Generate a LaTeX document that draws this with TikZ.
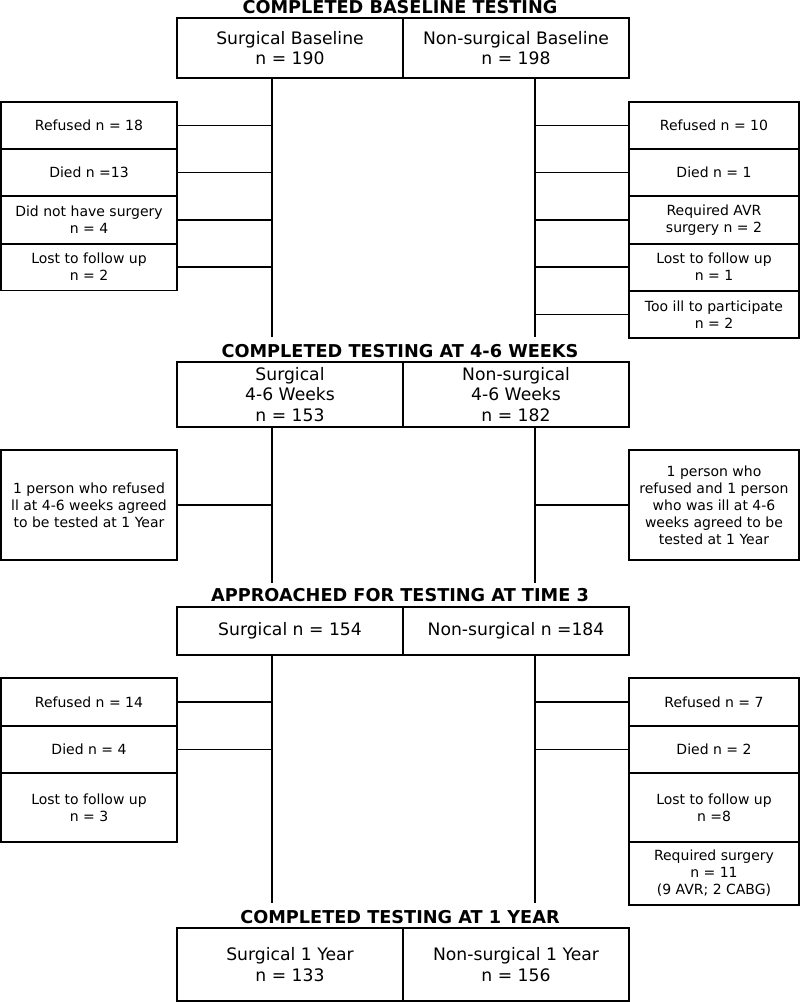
\documentclass[tikz,border=0pt]{standalone}
\usepackage{fontspec}
\setmainfont{DejaVu Sans}
\usetikzlibrary{calc}
\begin{document}
\begin{tikzpicture}[x=1pt,y=-1pt,
 mainbox/.style={draw,line width=1.6pt,minimum width=226pt,inner sep=0pt,outer sep=0pt,align=center,font=\fontsize{17.2}{20.5}\selectfont},
 sidebox/.style={draw,line width=1.6pt,inner sep=0pt,outer sep=0pt,align=center,font=\fontsize{14}{17}\selectfont},
 lbox/.style={sidebox,minimum width=176pt},
 rbox/.style={sidebox,minimum width=170pt},
 title/.style={anchor=base,font=\bfseries\fontsize{17.7}{20}\selectfont},
 trunk/.style={line width=2.3pt},
 branch/.style={line width=1.3pt}]
\useasboundingbox (0,0) rectangle (800,1002);

% ---------- Section 1 ----------
\node[title] (t1) at (400,13.5) {COMPLETED BASELINE TESTING};
\node[mainbox,minimum height=60pt] (m1l) at (290,48) {Surgical Baseline\\n = 190};
\node[mainbox,minimum height=60pt] (m1r) at (516,48) {Non-surgical Baseline\\n = 198};
\coordinate (e1l) at (272,337);
\coordinate (e1r) at (535,337);
\draw[trunk] (m1l.south -| e1l) -- (e1l);
\draw[trunk] (m1r.south -| e1r) -- (e1r);

\node[lbox,minimum height=47pt] (l1) at (89,125.5) {Refused n = 18};
\node[lbox,minimum height=47pt] (l2) at (89,172.5) {Died n =13};
\node[lbox,minimum height=48pt] (l3) at (89,220) {Did not have surgery\\n = 4};
\node[lbox,minimum height=47pt] (l4) at (89,267) {Lost to follow up\\n = 2};
\foreach \n in {l1,l2,l3,l4} \draw[branch] (\n.east) -- (\n.east -| e1l);

\node[rbox,minimum height=47pt] (r1) at (714,125.5) {Refused n = 10};
\node[rbox,minimum height=47pt] (r2) at (714,172.5) {Died n = 1};
\node[rbox,minimum height=48pt] (r3) at (714,220) {Required AVR\\surgery n = 2};
\node[rbox,minimum height=47pt] (r4) at (714,267) {Lost to follow up\\n = 1};
\node[rbox,minimum height=47pt] (r5) at (714,314.5) {Too ill to participate\\n = 2};
\foreach \n in {r1,r2,r3,r4,r5} \draw[branch] (\n.west) -- (\n.west -| e1r);

% ---------- Section 2 ----------
\node[title] (t2) at (400,357) {COMPLETED TESTING AT 4-6 WEEKS};
\node[mainbox,minimum height=65pt] (m2l) at (290,394.5) {Surgical\\4-6 Weeks\\n = 153};
\node[mainbox,minimum height=65pt] (m2r) at (516,394.5) {Non-surgical\\4-6 Weeks\\n = 182};
\coordinate (e2l) at (272,583);
\coordinate (e2r) at (535,583);
\draw[trunk] (m2l.south -| e2l) -- (e2l);
\draw[trunk] (m2r.south -| e2r) -- (e2r);

\node[lbox,minimum height=110pt] (l5) at (89,505) {1 person who refused\\ll at 4-6 weeks agreed\\to be tested at 1 Year};
\node[rbox,minimum height=110pt] (r6) at (714,505) {1 person who\\refused and 1 person\\who was ill at 4-6\\weeks agreed to be\\tested at 1 Year};
\draw[branch] (l5.east) -- (l5.east -| e2l);
\draw[branch] (r6.west) -- (r6.west -| e2r);

% ---------- Section 3 ----------
\node[title] (t3) at (400,601) {APPROACHED FOR TESTING AT TIME 3};
\node[mainbox,minimum height=48pt] (m3l) at (290,631) {Surgical n = 154};
\node[mainbox,minimum height=48pt] (m3r) at (516,631) {Non-surgical n =184};
\coordinate (e3l) at (272,903);
\coordinate (e3r) at (535,903);
\draw[trunk] (m3l.south -| e3l) -- (e3l);
\draw[trunk] (m3r.south -| e3r) -- (e3r);

\node[lbox,minimum height=48pt] (l6) at (89,702) {Refused n = 14};
\node[lbox,minimum height=47pt] (l7) at (89,749.5) {Died n = 4};
\node[lbox,minimum height=69pt] (l8) at (89,807.5) {Lost to follow up\\n = 3};
\draw[branch] (l6.east) -- (l6.east -| e3l);
\draw[branch] (l7.east) -- (l7.east -| e3l);
\draw[branch] ($(l8.north east)!0.35!(l8.south east)$) -- ($(l8.north east)!0.35!(l8.south east)$ -| e3l);

\node[rbox,minimum height=48pt] (r7) at (714,702) {Refused n = 7};
\node[rbox,minimum height=47pt] (r8) at (714,749.5) {Died n = 2};
\node[rbox,minimum height=69pt] (r9) at (714,807.5) {Lost to follow up\\n =8};
\node[rbox,minimum height=63pt] (r10) at (714,873.5) {Required surgery\\n = 11\\(9 AVR; 2 CABG)};
\draw[branch] (r7.west) -- (r7.west -| e3r);
\draw[branch] (r8.west) -- (r8.west -| e3r);
\draw[branch] ($(r9.north west)!0.35!(r9.south west)$) -- ($(r9.north west)!0.35!(r9.south west)$ -| e3r);
\draw[branch] ($(r10.north west)!0.37!(r10.south west)$) -- ($(r10.north west)!0.37!(r10.south west)$ -| e3r);

% ---------- Section 4 ----------
\node[title] (t4) at (400,923) {COMPLETED TESTING AT 1 YEAR};
\node[mainbox,minimum height=73pt] (m4l) at (290,964.5) {Surgical 1 Year\\n = 133};
\node[mainbox,minimum height=73pt] (m4r) at (516,964.5) {Non-surgical 1 Year\\n = 156};
\end{tikzpicture}
\end{document}
